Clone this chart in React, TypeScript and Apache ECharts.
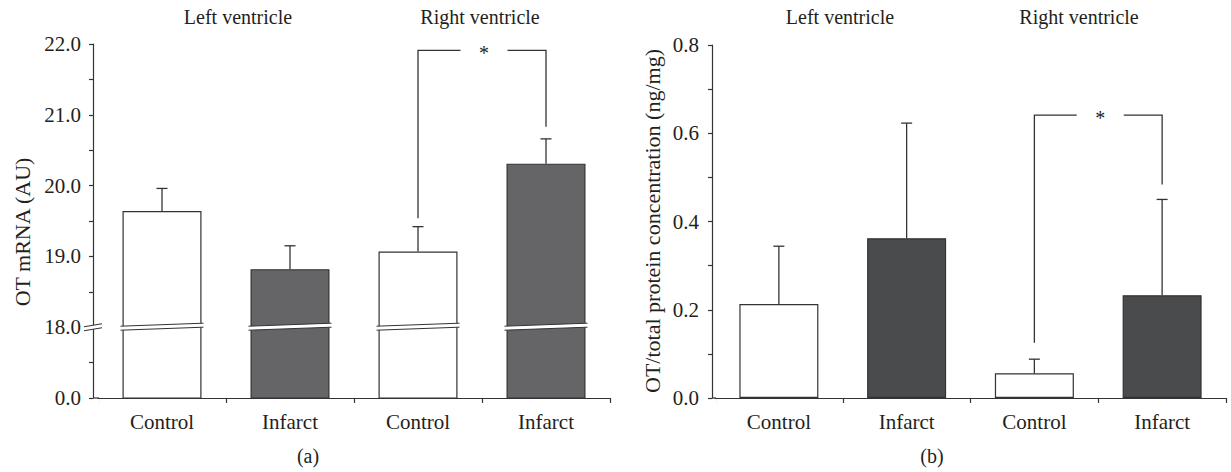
import React, { useEffect, useRef } from "react";
import * as echarts from "echarts";

// ---------- data ----------
const categories = ["Control", "Infarct", "Control", "Infarct"];
const isInfarct = [false, true, false, true];
const groupTitles = ["Left ventricle", "Right ventricle"];
const panelLabels = ["(a)", "(b)"];
const yAxisNames = ["OT mRNA (AU)", "OT/total protein concentration (ng/mg)"];

// Panel (a): OT mRNA (AU), axis broken between 0 and 18
const mrnaMean = [19.64, 18.82, 19.07, 20.31];
const mrnaUpper = [19.96, 19.15, 19.42, 20.66];
const mrnaAxisBase = 17; // shown as "0.0" (axis break)
const mrnaBreakAt = 18;
const mrnaMax = 22;
// bracket: [fromIndex, topValue, toIndex, leftEndValue, rightEndValue]
const mrnaBracket = [2, 21.91, 3, 19.54, 20.83];

// Panel (b): OT / total protein concentration (ng/mg)
const proteinMean = [0.213, 0.362, 0.056, 0.233];
const proteinUpper = [0.344, 0.623, 0.088, 0.45];
const proteinMax = 0.8;
const proteinBracket = [2, 0.641, 3, 0.125, 0.484];

// ---------- styles ----------
const FONT = "Liberation Serif";
const TEXT = "#231f20";
const LINE = "#333333";
const BAR_W = 79;

function barData(values: number[], dark: string) {
  return values.map((v, i) => ({
    value: v,
    itemStyle: { color: isInfarct[i] ? dark : "#ffffff" },
  }));
}

function errorSeries(axis: number, mean: number[], upper: number[]) {
  return {
    type: "custom",
    xAxisIndex: axis,
    yAxisIndex: axis,
    z: 4,
    silent: true,
    data: mean.map((m, i) => [i, m, upper[i]]),
    renderItem: (_p: any, api: any) => {
      const a = api.coord([api.value(0), api.value(1)]);
      const b = api.coord([api.value(0), api.value(2)]);
      const st = { stroke: LINE, lineWidth: 1.3 };
      return {
        type: "group",
        children: [
          { type: "line", shape: { x1: a[0], y1: a[1], x2: b[0], y2: b[1] }, style: st },
          { type: "line", shape: { x1: b[0] - 5.5, y1: b[1], x2: b[0] + 5.5, y2: b[1] }, style: st },
        ],
      };
    },
  };
}

function bracketSeries(axis: number, br: number[]) {
  return {
    type: "custom",
    xAxisIndex: axis,
    yAxisIndex: axis,
    z: 4,
    silent: true,
    data: [br],
    renderItem: (_p: any, api: any) => {
      const tl = api.coord([api.value(0), api.value(1)]);
      const tr = api.coord([api.value(2), api.value(1)]);
      const bl = api.coord([api.value(0), api.value(3)]);
      const brr = api.coord([api.value(2), api.value(4)]);
      const mid = (tl[0] + tr[0]) / 2 + 2;
      const gap = 23.5;
      const st = { stroke: LINE, lineWidth: 1.3, fill: "none" };
      return {
        type: "group",
        children: [
          { type: "polyline", shape: { points: [bl, tl, [mid - gap, tl[1]]] }, style: st },
          { type: "polyline", shape: { points: [[mid + gap, tr[1]], tr, brr] }, style: st },
          {
            type: "text",
            x: mid,
            y: tl[1] + 3,
            style: { text: "*", font: `20px "${FONT}"`, fill: TEXT, align: "center", verticalAlign: "middle" },
          },
        ],
      };
    },
  };
}

function barBreakSeries() {
  return {
    type: "custom",
    xAxisIndex: 0,
    yAxisIndex: 0,
    z: 5,
    silent: true,
    data: categories.map((_, i) => [i, mrnaBreakAt]),
    renderItem: (_p: any, api: any) => {
      const c = api.coord([api.value(0), api.value(1)]);
      const h = BAR_W / 2 + 2;
      const s = 1.5;
      const x1 = c[0] - h;
      const x2 = c[0] + h;
      const cy = c[1] - 0.5;
      const up = [[x1, cy - 2 + s], [x2, cy - 2 - s]];
      const lo = [[x1, cy + 2 + s], [x2, cy + 2 - s]];
      const st = { stroke: LINE, lineWidth: 1 };
      return {
        type: "group",
        children: [
          { type: "polygon", shape: { points: [up[0], up[1], lo[1], lo[0]] }, style: { fill: "#ffffff" } },
          { type: "line", shape: { x1: up[0][0], y1: up[0][1], x2: up[1][0], y2: up[1][1] }, style: st },
          { type: "line", shape: { x1: lo[0][0], y1: lo[0][1], x2: lo[1][0], y2: lo[1][1] }, style: st },
        ],
      };
    },
  };
}

function axisBreakSeries(axisOffset: number) {
  return {
    type: "custom",
    xAxisIndex: 0,
    yAxisIndex: 0,
    z: 5,
    silent: true,
    data: [[0, mrnaBreakAt]],
    renderItem: (params: any, api: any) => {
      const gx = params.coordSys.x;
      const ax = gx - axisOffset;
      const c = api.coord([0, api.value(1)]);
      const cy = c[1];
      const w = 9;
      const up = [[ax - w, cy - 0.5], [ax + w, cy - 3.5]];
      const lo = [[ax - w, cy + 3.5], [ax + w, cy + 0.5]];
      const st = { stroke: LINE, lineWidth: 1.1 };
      return {
        type: "group",
        children: [
          { type: "polygon", shape: { points: [up[0], up[1], lo[1], lo[0]] }, style: { fill: "#ffffff" } },
          { type: "line", shape: { x1: up[0][0], y1: up[0][1], x2: up[1][0], y2: up[1][1] }, style: st },
          { type: "line", shape: { x1: lo[0][0], y1: lo[0][1], x2: lo[1][0], y2: lo[1][1] }, style: st },
        ],
      };
    },
  };
}

// joins the offset y axis to the x axis and hides the x-axis tick at the grid's left edge
function cornerSeries(axisIndex: number, axisOffset: number) {
  return {
    type: "custom",
    xAxisIndex: axisIndex,
    yAxisIndex: axisIndex,
    z: 5,
    silent: true,
    data: [[0, 0]],
    renderItem: (params: any) => {
      const gx = params.coordSys.x;
      const y = params.coordSys.y + params.coordSys.height;
      return {
        type: "group",
        children: [
          { type: "line", shape: { x1: gx, y1: y + 1, x2: gx, y2: y + 7 }, style: { stroke: "#ffffff", lineWidth: 2.5 } },
          { type: "line", shape: { x1: gx - axisOffset, y1: y, x2: gx + 1, y2: y }, style: { stroke: LINE, lineWidth: 1.2 } },
        ],
      };
    },
  };
}

function textEl(text: string, x: number, y: number, size: number, rotate = 0) {
  return {
    type: "text",
    x,
    y,
    rotation: rotate,
    style: { text, font: `${size}px "${FONT}"`, fill: TEXT, align: "center", verticalAlign: "middle" },
  };
}

export default function App() {
  const ref = useRef<HTMLDivElement>(null);

  useEffect(() => {
    document.body.style.margin = "0";
    document.body.style.overflow = "hidden";
    if (!ref.current) return;
    const chart = echarts.init(ref.current, undefined, { renderer: "svg" });

    const axisLabelStyle = { fontFamily: FONT, fontSize: 21, color: TEXT };
    const lineStyle = { color: LINE, width: 1.2 };

    const xAxisBase = (gridIndex: number) => ({
      type: "category",
      gridIndex,
      data: categories,
      axisLine: { lineStyle },
      axisTick: { show: true, length: 5, lineStyle },
      axisLabel: { ...axisLabelStyle, margin: 13 },
      splitLine: { show: false },
    });

    const yAxisBase = {
      type: "value",
      axisLine: { show: true, lineStyle },
      axisTick: { show: true, length: 4, lineStyle },
      minorTick: { show: true, splitNumber: 2, length: 4, lineStyle },
      splitLine: { show: false },
      minorSplitLine: { show: false },
    };

    chart.setOption({
      animation: false,
      backgroundColor: "#ffffff",
      grid: [
        { left: 98, top: 44, width: 512, height: 354 },
        { left: 715, top: 45, width: 511, height: 353 },
      ],
      xAxis: [xAxisBase(0), xAxisBase(1)],
      yAxis: [
        {
          ...yAxisBase,
          gridIndex: 0,
          min: mrnaAxisBase,
          max: mrnaMax,
          interval: 1,
          offset: 5,
          axisLabel: {
            ...axisLabelStyle,
            margin: 12,
            formatter: (v: number) => (v === mrnaAxisBase ? "0.0" : v.toFixed(1)),
          },
        },
        {
          ...yAxisBase,
          gridIndex: 1,
          min: 0,
          max: proteinMax,
          interval: 0.2,
          offset: 3,
          axisLabel: { ...axisLabelStyle, margin: 13, formatter: (v: number) => v.toFixed(1) },
        },
      ],
      series: [
        {
          type: "bar",
          xAxisIndex: 0,
          yAxisIndex: 0,
          barWidth: BAR_W,
          data: barData(mrnaMean, "#656567"),
          itemStyle: { borderColor: LINE, borderWidth: 1.2 },
          silent: true,
        },
        {
          type: "bar",
          xAxisIndex: 1,
          yAxisIndex: 1,
          barWidth: BAR_W,
          data: barData(proteinMean, "#4a4b4d"),
          itemStyle: { borderColor: LINE, borderWidth: 1.2 },
          silent: true,
        },
        errorSeries(0, mrnaMean, mrnaUpper),
        errorSeries(1, proteinMean, proteinUpper),
        bracketSeries(0, mrnaBracket),
        bracketSeries(1, proteinBracket),
        barBreakSeries(),
        axisBreakSeries(5),
        cornerSeries(0, 5),
        cornerSeries(1, 3),
      ],
      graphic: [
        textEl(groupTitles[0], 238, 17, 20),
        textEl(groupTitles[1], 480, 17, 20),
        textEl(groupTitles[0], 840, 17, 20),
        textEl(groupTitles[1], 1079, 17, 20),
        textEl(yAxisNames[0], 22, 232, 22, Math.PI / 2),
        textEl(yAxisNames[1], 652, 221, 22, Math.PI / 2),
        textEl(panelLabels[0], 308, 456, 20),
        textEl(panelLabels[1], 932, 456, 20),
      ],
    });

    return () => chart.dispose();
  }, []);

  return (
    <div
      ref={ref}
      style={{ position: "absolute", left: 0, top: 0, width: 1231, height: 472 }}
    />
  );
}
